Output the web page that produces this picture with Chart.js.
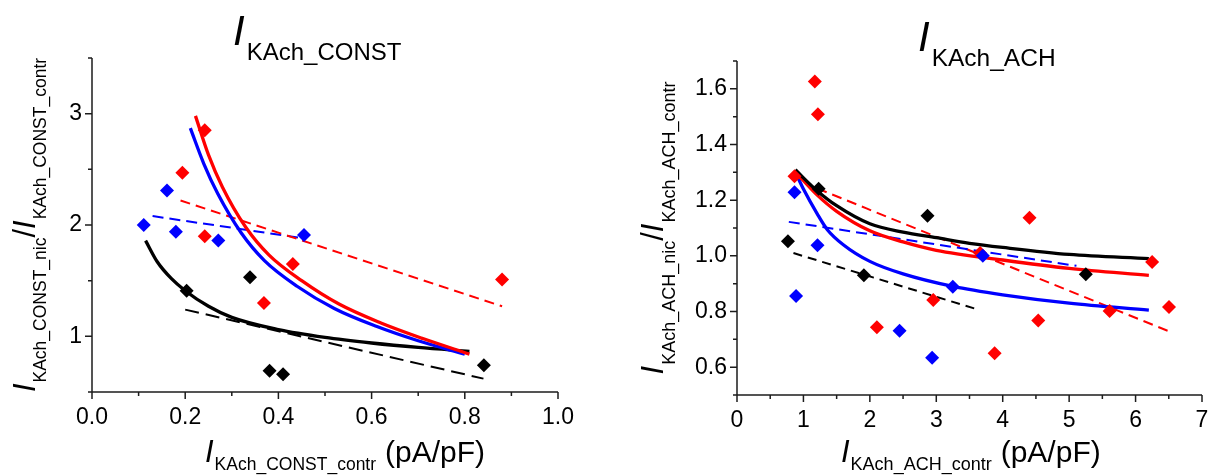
<!DOCTYPE html>
<html><head><meta charset="utf-8">
<script src="https://cdn.jsdelivr.net/npm/chart.js@4.4.1/dist/chart.umd.min.js"></script>
<style>
html,body{margin:0;padding:0;background:#fff;}
#wrap{position:relative;width:1222px;height:475px;overflow:hidden;background:#fff;}
.pane{position:absolute;top:0;width:611px;height:475px;}
</style></head><body>
<div id="wrap">
  <div class="pane" style="left:0"><canvas id="c1" width="611" height="475"></canvas></div>
  <div class="pane" style="left:611px"><canvas id="c2" width="611" height="475"></canvas></div>
</div>
<script>
// ---------- Left panel: I_KAch_CONST ----------
const constBlueX  = [0.111, 0.161, 0.180, 0.271, 0.455];
const constBlueY  = [2.00, 2.31, 1.94, 1.86, 1.91];
const constRedX   = [0.194, 0.242, 0.242, 0.369, 0.431, 0.880];
const constRedY   = [2.47, 2.85, 1.90, 1.30, 1.65, 1.51];
const constBlackX = [0.203, 0.339, 0.381, 0.410, 0.841];
const constBlackY = [1.41, 1.53, 0.69, 0.66, 0.74];

const constRedFitX   = [0.222, 0.25, 0.28, 0.33, 0.38, 0.45, 0.53, 0.62, 0.71, 0.81];
const constRedFitY   = [2.98, 2.63, 2.34, 1.98, 1.73, 1.50, 1.29, 1.12, 0.98, 0.84];
const constBlueFitX  = [0.211, 0.24, 0.27, 0.32, 0.37, 0.44, 0.52, 0.61, 0.70, 0.80];
const constBlueFitY  = [2.87, 2.55, 2.28, 1.93, 1.68, 1.45, 1.25, 1.09, 0.96, 0.84];
const constBlackFitX = [0.115, 0.14, 0.17, 0.20, 0.25, 0.30, 0.40, 0.50, 0.60, 0.70, 0.81];
const constBlackFitY = [1.86, 1.67, 1.52, 1.41, 1.27, 1.17, 1.06, 0.99, 0.94, 0.90, 0.865];

const constRedLinX   = [0.19, 0.88];
const constRedLinY   = [2.22, 1.27];
const constBlueLinX  = [0.13, 0.455];
const constBlueLinY  = [2.08, 1.88];
const constBlackLinX = [0.20, 0.84];
const constBlackLinY = [1.24, 0.62];

const constXRange = [0, 1.0, 0.1];   // min, max, minor step
const constYRange = [0.5, 3.5, 0.5];

// ---------- Right panel: I_KAch_ACH ----------
const achBlueX  = [0.866, 0.889, 1.212, 2.447, 2.937, 3.249, 3.700];
const achBlueY  = [1.228, 0.856, 1.038, 0.731, 0.634, 0.889, 1.000];
const achRedX   = [0.866, 1.171, 1.218, 2.106, 2.954, 3.660, 3.878, 4.403, 4.535, 5.609, 6.249, 6.503];
const achRedY   = [1.286, 1.626, 1.509, 0.743, 0.841, 1.010, 0.650, 1.137, 0.768, 0.802, 0.978, 0.816];
const achBlackX = [0.767, 1.229, 1.910, 2.868, 5.251];
const achBlackY = [1.052, 1.241, 0.930, 1.144, 0.934];

const achBlackFitX = [0.88, 1.0, 1.2, 1.5, 2.0, 2.5, 3.0, 3.5, 4.0, 5.0, 6.2];
const achBlackFitY = [1.31, 1.28, 1.235, 1.18, 1.115, 1.085, 1.065, 1.045, 1.03, 1.005, 0.99];
const achRedFitX   = [0.88, 1.0, 1.2, 1.5, 2.0, 2.5, 3.0, 4.0, 5.0, 6.2];
const achRedFitY   = [1.30, 1.27, 1.22, 1.16, 1.09, 1.05, 1.02, 0.985, 0.955, 0.93];
const achBlueFitX  = [0.88, 1.0, 1.21, 1.36, 1.6, 2.0, 2.5, 3.25, 4.0, 5.0, 6.2];
const achBlueFitY  = [1.30, 1.24, 1.15, 1.094, 1.04, 0.98, 0.935, 0.89, 0.86, 0.83, 0.805];

const achBlueLinX  = [0.78, 5.11];
const achBlueLinY  = [1.122, 0.964];
const achRedLinX   = [1.21, 6.52];
const achRedLinY   = [1.242, 0.727];
const achBlackLinX = [0.85, 3.60];
const achBlackLinY = [1.01, 0.809];

const achXRange = [0, 7, 0.5];
const achYRange = [0.5, 1.7, 0.1];

// ---------- helpers ----------
const FONT = "'Liberation Sans', Arial, Helvetica, sans-serif";
const RED = '#ff0000', BLUE = '#0000ff', BLACK = '#000000';

const pts = (xs, ys) => xs.map((x, i) => ({x: x, y: ys[i]}));
function markDS(xs, ys, color) {
  return {data: pts(xs, ys), showLine: false, pointStyle: 'rectRot', pointRadius: 7,
    pointHoverRadius: 7, backgroundColor: color, borderColor: color, borderWidth: 0, order: 0};
}
function lineDS(xs, ys, color, width, dash) {
  return {data: pts(xs, ys), showLine: true, borderColor: color, backgroundColor: color,
    borderWidth: width, borderDash: dash || [], pointRadius: 0, pointHoverRadius: 0,
    tension: 0.4, cubicInterpolationMode: 'monotone', fill: false, order: 1};
}

function drawSegs(ctx, segs, x, y, rot, center) {
  ctx.save();
  ctx.translate(x, y);
  if (rot) ctx.rotate(rot);
  let total = 0;
  segs.forEach(s => { ctx.font = s.font; s.w = ctx.measureText(s.t).width; total += s.w + (s.gap || 0); });
  let cx = center ? -total / 2 : 0;
  ctx.fillStyle = '#000';
  ctx.textBaseline = 'alphabetic';
  ctx.textAlign = 'left';
  segs.forEach(s => {
    cx += (s.gap || 0);
    ctx.font = s.font;
    ctx.fillText(s.t, cx, s.dy || 0);
    cx += s.w;
  });
  ctx.restore();
}

const axesPlugin = {
  id: 'axesAndTitles',
  beforeDatasetsDraw(chart, args, opts) {
    const ctx = chart.ctx;
    const {left, right, top, bottom} = chart.chartArea;
    const xs = chart.scales.x, ys = chart.scales.y;
    ctx.save();
    ctx.strokeStyle = '#1c1c1c';
    ctx.lineWidth = 1.5;
    ctx.beginPath();
    ctx.moveTo(left, top); ctx.lineTo(left, bottom); ctx.lineTo(right, bottom);
    xs.ticks.forEach(t => {
      const px = xs.getPixelForValue(t.value);
      const len = t.label ? 7 : 4;
      ctx.moveTo(px, bottom); ctx.lineTo(px, bottom + len);
    });
    ys.ticks.forEach(t => {
      const py = ys.getPixelForValue(t.value);
      const len = t.label ? 7 : 4;
      ctx.moveTo(left, py); ctx.lineTo(left - len, py);
    });
    ctx.stroke();
    ctx.restore();
  },
  afterDraw(chart, args, opts) {
    const ctx = chart.ctx;
    (opts.texts || []).forEach(o => drawSegs(ctx, o.segs, o.x, o.y, o.rot, o.center));
  }
};

function scaleOpts(range, cb, fitProp, fitVal, pad) {
  return {
    type: 'linear', min: range[0], max: range[1],
    ticks: {stepSize: range[2], autoSkip: false, maxRotation: 0, minRotation: 0, padding: pad,
      color: '#000', font: {family: FONT, size: 23}, callback: cb},
    grid: {display: true, drawOnChartArea: false, drawTicks: true, tickLength: 7,
      color: 'rgba(0,0,0,0)', tickColor: 'rgba(0,0,0,0)'},
    border: {display: false},
    afterFit: s => { s[fitProp] = fitVal; }
  };
}

const evenTenth = v => { const k = Math.round(v * 10); return k % 2 === 0 ? (k / 10).toFixed(1) : ''; };
const wholeOnly = v => { const k = Math.round(v * 2); return k % 2 === 0 ? String(k / 2) : ''; };

const italic = sz => 'italic ' + sz + 'px ' + FONT;
const normal = sz => sz + 'px ' + FONT;

function makeChart(id, datasets, xr, yr, xcb, ycb, area, texts) {
  return new Chart(document.getElementById(id), {
    type: 'scatter',
    data: {datasets: datasets},
    options: {
      responsive: false, animation: false, events: [],
      layout: {padding: {left: 0, top: area.top, right: 611 - area.right, bottom: 0}},
      scales: {
        x: scaleOpts(xr, xcb, 'height', 475 - area.bottom, 5),
        y: scaleOpts(yr, ycb, 'width', area.left, 3)
      },
      plugins: {legend: {display: false}, tooltip: {enabled: false}, axesAndTitles: {texts: texts}}
    },
    plugins: [axesPlugin]
  });
}

// ---------- left chart ----------
makeChart('c1', [
  markDS(constBlueX, constBlueY, BLUE),
  markDS(constRedX, constRedY, RED),
  markDS(constBlackX, constBlackY, BLACK),
  lineDS(constRedFitX, constRedFitY, RED, 3.3),
  lineDS(constBlueFitX, constBlueFitY, BLUE, 3.3),
  lineDS(constBlackFitX, constBlackFitY, BLACK, 3.3),
  lineDS(constRedLinX, constRedLinY, RED, 2, [10, 6]),
  lineDS(constBlueLinX, constBlueLinY, BLUE, 2, [11, 6]),
  lineDS(constBlackLinX, constBlackLinY, BLACK, 2, [14, 7])
], constXRange, constYRange, evenTenth, wholeOnly,
{left: 92, right: 558, top: 58, bottom: 392},
[
  {x: 233, y: 45, segs: [{t: 'I', font: italic(42)}, {t: 'KAch_CONST', font: normal(24), gap: 2, dy: 15}]},
  {x: 205, y: 462, segs: [{t: 'I', font: italic(31)}, {t: 'KAch_CONST_contr', font: normal(17.5), gap: 1, dy: 8},
                          {t: '(pA/pF)', font: normal(30), gap: 9}]},
  {x: 35, y: 225, rot: -Math.PI / 2, center: true, segs: [
    {t: 'I', font: italic(31)}, {t: 'KAch_CONST_nic', font: normal(17.5), gap: 1, dy: 11},
    {t: '/', font: normal(31)}, {t: 'I', font: italic(31)},
    {t: 'KAch_CONST_contr', font: normal(17.5), gap: 1, dy: 11}]}
]);

// ---------- right chart ----------
makeChart('c2', [
  markDS(achBlueX, achBlueY, BLUE),
  markDS(achRedX, achRedY, RED),
  markDS(achBlackX, achBlackY, BLACK),
  lineDS(achBlackFitX, achBlackFitY, BLACK, 3.3),
  lineDS(achRedFitX, achRedFitY, RED, 3.3),
  lineDS(achBlueFitX, achBlueFitY, BLUE, 3.3),
  lineDS(achBlueLinX, achBlueLinY, BLUE, 2, [11, 6]),
  lineDS(achRedLinX, achRedLinY, RED, 2, [10, 6]),
  lineDS(achBlackLinX, achBlackLinY, BLACK, 2, [9, 6])
], achXRange, achYRange, wholeOnly, evenTenth,
{left: 126, right: 591, top: 61, bottom: 395},
[
  {x: 307, y: 51, segs: [{t: 'I', font: italic(42)}, {t: 'KAch_ACH', font: normal(24.5), gap: 2, dy: 15}]},
  {x: 230, y: 462, segs: [{t: 'I', font: italic(31)}, {t: 'KAch_ACH_contr', font: normal(18), gap: 1, dy: 8},
                          {t: '(pA/pF)', font: normal(30), gap: 9}]},
  {x: 52, y: 228, rot: -Math.PI / 2, center: true, segs: [
    {t: 'I', font: italic(31)}, {t: 'KAch_ACH_nic', font: normal(18), gap: 1, dy: 12},
    {t: '/', font: normal(31)}, {t: 'I', font: italic(31)},
    {t: 'KAch_ACH_contr', font: normal(18), gap: 1, dy: 12}]}
]);
</script>
</body></html>
